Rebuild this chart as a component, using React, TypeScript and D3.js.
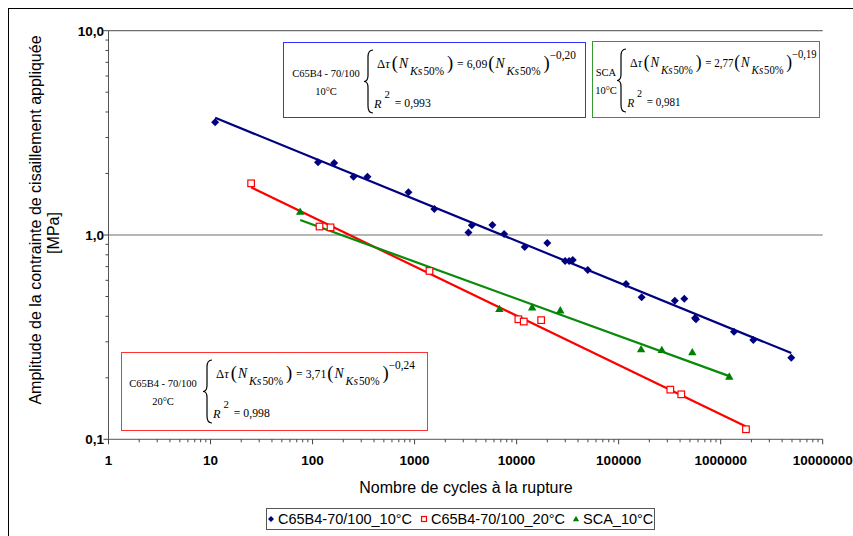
import React from 'react';
import * as d3 from 'd3';

// C65B4-70/100 at 10°C (blue diamonds)
const blueN = [11.1, 113, 163, 252, 345, 870, 1560, 3370, 3640, 5790, 7540, 12000, 20000, 29900, 32700, 35500, 49800, 118000, 168000, 355000, 440000, 561000, 573000, 1350000, 2090000, 4920000];
const blueTau = [3.56, 2.27, 2.25, 1.93, 1.93, 1.62, 1.34, 1.03, 1.115, 1.12, 1.01, 0.874, 0.914, 0.746, 0.746, 0.755, 0.674, 0.576, 0.496, 0.477, 0.488, 0.392, 0.387, 0.336, 0.306, 0.251];

// C65B4-70/100 at 20°C (red squares)
const redN = [25.0, 117, 150, 1400, 10400, 11750, 17400, 321000, 411000, 1770000];
const redTau = [1.79, 1.10, 1.09, 0.667, 0.387, 0.377, 0.383, 0.175, 0.166, 0.112];

// SCA at 10°C (green triangles)
const greenN = [75.6, 6780, 14200, 26800, 166000, 265000, 527000, 1215000];
const greenTau = [1.30, 0.435, 0.443, 0.428, 0.276, 0.274, 0.267, 0.203];

const seriesNames = ['C65B4-70/100_10°C', 'C65B4-70/100_20°C', 'SCA_10°C'];

const xTickValues = [1, 10, 100, 1000, 10000, 100000, 1000000, 10000000];
const xTickLabels = ['1', '10', '100', '1000', '10000', '100000', '1000000', '10000000'];
const yTickValues = [0.1, 1, 10];
const yTickLabels = ['0,1', '1,0', '10,0'];

// equation boxes (blue, green, red)
const eqLabel = ['C65B4 - 70/100', 'SCA', 'C65B4 - 70/100'];
const eqTemp = ['10°C', '10°C', '20°C'];
const eqCoef = ['6,09', '2,77', '3,71'];
const eqExp = ['−0,20', '−0,19', '−0,24'];
const eqR2 = ['0,993', '0,981', '0,998'];

const W = 853;
const H = 536;
const plot = { left: 108.5, right: 822.7, top: 30.7, bottom: 439.3 };

const x = d3.scaleLog().domain([1, 1e7]).range([plot.left, plot.right]);
const y = d3.scaleLog().domain([0.1, 10]).range([plot.bottom, plot.top]);

function powerFit(xs: number[], ys: number[]) {
  const lx = xs.map(Math.log10);
  const ly = ys.map(Math.log10);
  const mx = d3.mean(lx) as number;
  const my = d3.mean(ly) as number;
  let num = 0, den = 0;
  lx.forEach((v, i) => { num += (v - mx) * (ly[i] - my); den += (v - mx) * (v - mx); });
  const b = num / den;
  const a = my - b * mx;
  return (n: number) => Math.pow(10, a + b * Math.log10(n));
}

const series = [
  { n: blueN, t: blueTau, color: '#000080', line: '#000080', shape: 'diamond' },
  { n: redN, t: redTau, color: '#ff0000', line: '#ff0000', shape: 'square' },
  { n: greenN, t: greenTau, color: '#008000', line: '#0a8a0a', shape: 'triangle' },
];

const marker = (shape: string, cx: number, cy: number, color: string, s = 1, key?: any) => {
  if (shape === 'diamond') {
    const r = 4 * s;
    return <path key={key} d={`M${cx},${cy - r}L${cx + r},${cy}L${cx},${cy + r}L${cx - r},${cy}Z`} fill={color} />;
  }
  if (shape === 'square') {
    const r = 3.3 * s;
    return <rect key={key} x={cx - r} y={cy - r} width={2 * r} height={2 * r} fill="white" stroke={color} strokeWidth={1.2} />;
  }
  const r = 4.2 * s;
  return <path key={key} d={`M${cx},${cy - r}L${cx + r},${cy + r * 0.75}L${cx - r},${cy + r * 0.75}Z`} fill={color} />;
};

const line = d3.line<[number, number]>().x(d => x(d[0])).y(d => y(d[1]));

// layout of the equation boxes
const boxX = [283, 592, 121];
const boxY = [42, 41, 352];
const boxW = [302, 227, 306];
const boxH = [75, 76, 78];
const boxColor = ['#3333ff', '#339933', '#ff3333'];
const labelDX = [43, 14, 42];
const braceDX = [82, 26, 83];
const eqSquash = [0.98, 0.92, 0.98];

const serif = '"Liberation Serif", "Times New Roman", serif';
const sans = '"Liberation Sans", Arial, sans-serif';

function Brace({ bx, top, bottom }: { bx: number; top: number; bottom: number }) {
  const m = (top + bottom) / 2;
  const d = `M${bx + 8},${top} Q${bx + 3},${top} ${bx + 3},${top + 7} L${bx + 3},${m - 6} Q${bx + 3},${m} ${bx - 1},${m} Q${bx + 3},${m} ${bx + 3},${m + 6} L${bx + 3},${bottom - 7} Q${bx + 3},${bottom} ${bx + 8},${bottom}`;
  return <path d={d} fill="none" stroke="#000" strokeWidth={1.2} />;
}

function EqBox({ i }: { i: number }) {
  const bx = boxX[i], by = boxY[i];
  const ex = bx + braceDX[i] + 12;
  return (
    <g>
      <rect x={bx + 0.5} y={by + 0.5} width={boxW[i]} height={boxH[i]} fill="white" stroke={boxColor[i]} strokeWidth={1} />
      <text x={bx + labelDX[i]} y={by + 35} textAnchor="middle" fontFamily={serif} fontSize={10.5}>{eqLabel[i]}</text>
      <text x={bx + labelDX[i]} y={by + 53} textAnchor="middle" fontFamily={serif} fontSize={10.5}>{eqTemp[i]}</text>
      <Brace bx={bx + braceDX[i]} top={by + 8} bottom={by + 71} />
      <g transform={`translate(${ex},${by + 26}) scale(${eqSquash[i]},1)`}>
        <text x={0} y={0} fontFamily={serif} fontSize={13}>
          <tspan>Δ</tspan>
          <tspan fontStyle="italic">τ</tspan>
          <tspan fontSize={19} dy={1} dx={2}>(</tspan>
          <tspan fontStyle="italic" fontSize={14} dy={-1} dx={1}>N</tspan>
          <tspan fontStyle="italic" fontSize={12} dy={7} dx={2}>Ks</tspan>
          <tspan fontSize={11.5} dx={1}>50%</tspan>
          <tspan fontSize={19} dy={-6} dx={3}>)</tspan>
          <tspan fontSize={12} dy={-1} dx={4}>{'= ' + eqCoef[i]}</tspan>
          <tspan fontSize={19} dy={1} dx={1}>(</tspan>
          <tspan fontStyle="italic" fontSize={14} dy={-1} dx={1}>N</tspan>
          <tspan fontStyle="italic" fontSize={12} dy={7} dx={2}>Ks</tspan>
          <tspan fontSize={11.5} dx={1}>50%</tspan>
          <tspan fontSize={19} dy={-6} dx={3}>)</tspan>
          <tspan fontSize={11.5} dy={-10}>{eqExp[i]}</tspan>
        </text>
        <text x={-3} y={40} fontFamily={serif} fontSize={12.5}>
          <tspan fontStyle="italic">R</tspan>
          <tspan fontSize={11} dy={-10} dx={3}>2</tspan>
          <tspan fontSize={12} dy={9} dx={5}>{'= ' + eqR2[i]}</tspan>
        </text>
      </g>
    </g>
  );
}

export default function App() {
  const allTicks = x.ticks();
  const yMinor = y.ticks();
  const isMajor = (v: number) => Math.abs(Math.log10(v) - Math.round(Math.log10(v))) < 1e-9;

  return (
    <svg width={W} height={H} style={{ position: 'absolute', left: 0, top: 0, background: 'white' }}>
      {/* chart frame */}
      <rect x={8.5} y={8.5} width={W + 10} height={H + 10} fill="white" stroke="#000" strokeWidth={1} />

      {/* gridlines */}
      {yTickValues.slice(1).map(v => (
        <line key={v} x1={plot.left} x2={plot.right} y1={y(v)} y2={y(v)} stroke="#6e6e6e" strokeWidth={1.2} />
      ))}

      {/* axes */}
      <line x1={plot.left} x2={plot.left} y1={plot.top} y2={plot.bottom} stroke="#555" />
      <line x1={plot.left} x2={plot.right} y1={plot.bottom} y2={plot.bottom} stroke="#555" />
      {allTicks.map((v, i) => (
        <line key={'xt' + i} x1={x(v)} x2={x(v)} y1={plot.bottom} y2={plot.bottom + (isMajor(v) ? 5 : 3)} stroke="#444" />
      ))}
      {yMinor.map((v, i) => (
        <line key={'yt' + i} x1={plot.left} x2={plot.left - (isMajor(v) ? 5 : 3)} y1={y(v)} y2={y(v)} stroke="#444" />
      ))}
      {xTickValues.map((v, i) => (
        <text key={'xl' + i} x={x(v)} y={465} textAnchor="middle" fontFamily={sans} fontWeight="bold" fontSize={13.5}>{xTickLabels[i]}</text>
      ))}
      {yTickValues.map((v, i) => (
        <text key={'yl' + i} x={104} y={y(v) + 5} textAnchor="end" fontFamily={sans} fontWeight="bold" fontSize={13.5}>{yTickLabels[i]}</text>
      ))}

      {/* axis titles */}
      <text x={466} y={493} textAnchor="middle" fontFamily={sans} fontSize={16}>Nombre de cycles à la rupture</text>
      <text transform="translate(41,220) rotate(-90)" textAnchor="middle" fontFamily={sans} fontSize={16}>Amplitude de la contrainte de cisaillement appliquée</text>
      <text transform="translate(59,233) rotate(-90)" textAnchor="middle" fontFamily={sans} fontSize={16}>[MPa]</text>

      {/* trendlines */}
      {series.map((s, i) => {
        const f = powerFit(s.n, s.t);
        const lo = d3.min(s.n) as number;
        const hi = d3.max(s.n) as number;
        return <path key={'tl' + i} d={line([[lo, f(lo)], [hi, f(hi)]]) as string} fill="none" stroke={s.line} strokeWidth={2.2} />;
      })}

      {/* points */}
      {series.map((s, i) => (
        <g key={'pts' + i}>{s.n.map((n, j) => marker(s.shape, x(n), y(s.t[j]), s.color, 1, j))}</g>
      ))}

      {/* equation boxes */}
      {[0, 1, 2].map(i => <EqBox key={i} i={i} />)}

      {/* legend */}
      <rect x={266.5} y={508.5} width={388} height={21} fill="white" stroke="#555" />
      {[271, 424, 576].map((lx, i) => (
        <g key={'lg' + i}>
          {marker(series[i].shape, lx, 519, series[i].color, 0.75)}
          <text x={lx + 7} y={524} fontFamily={sans} fontSize={14.5}>{seriesNames[i]}</text>
        </g>
      ))}
    </svg>
  );
}
